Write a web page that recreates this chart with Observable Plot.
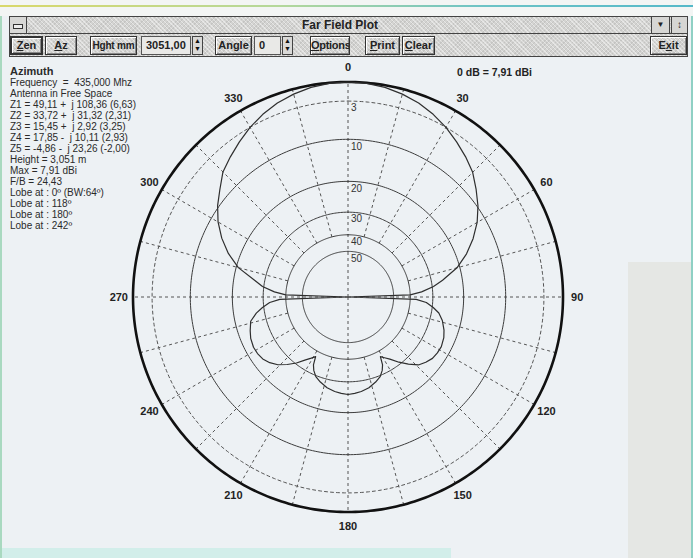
<!DOCTYPE html>
<html><head><meta charset="utf-8">
<script src="https://cdn.jsdelivr.net/npm/d3@7"></script>
<script src="https://cdn.jsdelivr.net/npm/@observablehq/plot@0.6"></script>
<style>
html,body{margin:0;padding:0;}
body{width:693px;height:558px;position:relative;overflow:hidden;background:#edf1f4;font-family:"Liberation Sans",Arial,sans-serif;color:#222;}
.abs{position:absolute;}
#chart{position:absolute;left:0;top:0;z-index:1;}
.ui{z-index:2;}
.hatch{background-color:#d3d3d1;background-image:repeating-linear-gradient(45deg,rgba(255,255,255,.45) 0 1px,transparent 1px 3px),repeating-linear-gradient(-45deg,rgba(0,0,0,.07) 0 1px,transparent 1px 3px);}
.btn{position:absolute;top:36px;height:19px;border:1px solid #333;box-shadow:inset 1px 1px 0 #fff,inset -1px -1px 0 #888;font-weight:bold;font-size:11px;line-height:17px;text-align:center;color:#222;box-sizing:border-box;white-space:nowrap;overflow:hidden;}
.box{position:absolute;top:36px;height:19px;border:1px solid #555;background:#e9e9e7;font-weight:bold;font-size:11px;line-height:17px;padding-left:4px;box-sizing:border-box;color:#222;white-space:nowrap;}
.spin{position:absolute;top:36px;width:11px;height:19px;border:1px solid #444;box-sizing:border-box;background:#d9d9d7;font-size:7px;line-height:8px;text-align:center;color:#111;}
#info{left:10px;top:66px;font-size:10px;line-height:11px;color:#2a2a2a;white-space:pre;}
#info b{font-size:11px;}
</style></head>
<body>
<div class="abs" style="left:0;top:0;width:693px;height:16px;background:#f3f5f4;"></div>
<div class="abs" style="left:0;top:5px;width:693px;height:2px;background:linear-gradient(90deg,#d9d86a,#b5d89a 40%,#6cc3c6 70%,#55b9c9);"></div>
<div class="abs" style="left:0;top:16px;width:2px;height:542px;background:#a9d9c0;"></div>
<div class="abs" style="left:691px;top:16px;width:2px;height:542px;background:#8fd0c4;"></div>
<div class="abs" style="left:628px;top:262px;width:63px;height:296px;background:#e5e7e4;"></div>
<div class="abs" style="left:2px;top:548px;width:449px;height:10px;background:#d2eeea;"></div>

<div class="abs ui hatch" style="left:9px;top:16px;width:679px;height:18px;border:1px solid #444;box-sizing:border-box;"></div>
<div class="abs ui" style="left:9px;top:16px;width:18px;height:18px;border:1px solid #444;box-sizing:border-box;background:#d8d8d6;"><div style="margin:7px 3px 0;height:3px;border:1px solid #333;background:#eee;"></div></div>
<div class="abs ui" style="left:302px;top:17px;font-weight:bold;font-size:12px;line-height:16px;color:#222;">Far Field Plot</div>
<div class="abs ui" style="left:651px;top:16px;width:19px;height:18px;border:1px solid #444;box-sizing:border-box;background:#d6d6d4;font-size:8px;text-align:center;line-height:16px;">▼</div>
<div class="abs ui" style="left:671px;top:16px;width:17px;height:18px;border:1px solid #444;box-sizing:border-box;background:#d6d6d4;font-size:10px;text-align:center;line-height:16px;">↕</div>

<div class="abs ui hatch" style="left:9px;top:34px;width:679px;height:23px;border:1px solid #444;border-top:none;box-sizing:border-box;"></div>
<div class="btn ui hatch" style="left:10px;width:33px;border-width:2px;line-height:15px;"><u>Z</u>en</div>
<div class="btn ui hatch" style="left:45px;width:32px;"><u>A</u>z</div>
<div class="btn ui hatch" style="left:90px;width:47px;font-size:10px;letter-spacing:-0.2px;">Hght mm</div>
<div class="box ui" style="left:141px;width:50px;">3051,00</div>
<div class="spin ui" style="left:192px;">▲<br>▼</div>
<div class="btn ui hatch" style="left:215px;width:37px;">Angle</div>
<div class="box ui" style="left:254px;width:27px;">0</div>
<div class="spin ui" style="left:282px;">▲<br>▼</div>
<div class="btn ui hatch" style="left:310px;width:40px;letter-spacing:-0.3px;"><u>O</u>ptions</div>
<div class="btn ui hatch" style="left:365px;width:35px;"><u>P</u>rint</div>
<div class="btn ui hatch" style="left:402px;width:33px;"><u>C</u>lear</div>
<div class="btn ui hatch" style="left:650px;width:37px;">E<u>x</u>it</div>

<div id="info" class="abs ui"><b>Azimuth</b>
Frequency  =  435,000 Mhz
Antenna in Free Space
Z1 = 49,11 +  j 108,36 (6,63)
Z2 = 33,72 +  j 31,32 (2,31)
Z3 = 15,45 +  j 2,92 (3,25)
Z4 = 17,85 -  j 10,11 (2,93)
Z5 = -4,86 -  j 23,26 (-2,00)
Height = 3,051 m
Max = 7,91 dBi
F/B = 24,43
Lobe at : 0º (BW:64º)
Lobe at : 118º
Lobe at : 180º
Lobe at : 242º</div>
<div class="abs ui" style="left:457px;top:66px;font-size:10.5px;line-height:12px;color:#222;font-weight:bold;">0 dB = 7,91 dBi</div>

<div id="chart"></div>
<script>
// ---- data ----
const angleTicks = [0, 30, 60, 90, 120, 150, 180, 210, 240, 270, 300, 330];
const gridAngles = [0, 15, 30, 45, 60, 75, 90, 105, 120, 135, 150, 165, 180, 195, 210, 225, 240, 255, 270, 285, 300, 315, 330, 345];
const solidRings = [-10, -20, -30, -40, -50];
const dashedRings = [-3];
const ringLabelLevels = [-3, -10, -20, -30, -40, -50];
const ringLabelTexts = ["3", "10", "20", "30", "40", "50"];
const patternAngles = [0, 5, 10, 15, 20, 25, 30, 35, 40, 45, 50, 55, 60, 65, 70, 75, 80, 83, 86, 88, 90,
  92, 94, 97, 100, 104, 109, 113, 118, 122, 126, 130, 134, 138, 142, 146, 149, 151.5, 153, 155, 158, 162, 167, 172, 176, 180,
  184, 188, 193, 198, 202, 205, 207, 208.5, 211, 214, 218, 222, 226, 230, 234, 238, 242, 247, 251, 256, 260, 263, 266, 268, 270,
  272, 274, 277, 280, 285, 290, 295, 300, 305, 310, 315, 320, 325, 330, 335, 340, 345, 350, 355, 360];
const patternDb = [0, -0.08, -0.33, -0.75, -1.3, -2.08, -3.0, -4.1, -5.2, -6.4, -8.1, -9.8, -11.8, -14.3, -17.2, -20.8, -26, -29.5, -34.5, -40, -200,
  -37, -32.5, -29.6, -27.3, -25.6, -24.2, -23.4, -22.9, -23.0, -23.3, -24.2, -25.4, -28.0, -30.8, -34.0, -35.8, -37.2, -33.5, -31.5, -29.6, -28.3, -27.0, -26.2, -25.8, -25.5,
  -25.8, -26.2, -27.0, -28.3, -29.6, -31.5, -33.5, -37.2, -35.6, -33.6, -30.4, -27.8, -25.5, -24.0, -23.0, -22.6, -22.5, -22.9, -23.6, -24.6, -27.0, -29.5, -32.5, -37, -200,
  -40, -34.5, -29.5, -26.5, -20.6, -16.9, -14.0, -11.6, -9.7, -8.1, -6.3, -5.2, -4.1, -3.0, -2.08, -1.3, -0.75, -0.33, -0.08, 0];

// ---- geometry helpers ----
const rad = db => Math.exp(0.031 * db);           // dB -> normalised radius
const px = (a, r) => r * Math.sin(a * Math.PI / 180);
const py = (a, r) => r * Math.cos(a * Math.PI / 180);

const pattern = patternAngles.map((a, i) => ({a, db: patternDb[i]}));
const circleSteps = d3.range(0, 361, 1);
const ringPts = levels => levels.flatMap(l => circleSteps.map(a => ({a, l})));
const spokes = gridAngles.map(a => ({a, r0: a % 90 === 0 ? 0 : rad(-40)}));
const ringLabels = ringLabelLevels.map((l, i) => ({l, t: ringLabelTexts[i]}));

const cx = 347.5, cy = 296.5, R = 215;

const chart = Plot.plot({
  width: 693, height: 558,
  marginTop: 0, marginBottom: 0, marginLeft: 0, marginRight: 0,
  x: {domain: [-1, 1], range: [cx - R, cx + R], axis: null},
  y: {domain: [-1, 1], range: [cy + R, cy - R], axis: null},
  style: {background: "transparent", overflow: "visible"},
  marks: [
    Plot.link(spokes, {
      x1: d => px(d.a, d.r0), y1: d => py(d.a, d.r0),
      x2: d => px(d.a, 1), y2: d => py(d.a, 1),
      stroke: "#555", strokeWidth: 1, strokeDasharray: "3,3"
    }),
    Plot.line(ringPts(dashedRings), {
      x: d => px(d.a, rad(d.l)), y: d => py(d.a, rad(d.l)), z: "l",
      stroke: "#555", strokeWidth: 1, strokeDasharray: "3,3"
    }),
    Plot.line(ringPts(solidRings), {
      x: d => px(d.a, rad(d.l)), y: d => py(d.a, rad(d.l)), z: "l",
      stroke: "#3c3c3c", strokeWidth: 1
    }),
    Plot.line(ringPts([0]), {
      x: d => px(d.a, 1), y: d => py(d.a, 1), z: "l",
      stroke: "#111", strokeWidth: 2.6
    }),
    Plot.line(pattern, {
      x: d => px(d.a, rad(d.db)), y: d => py(d.a, rad(d.db)),
      stroke: "#2e2e2e", strokeWidth: 1.2, strokeLinejoin: "round"
    }),
    Plot.text(ringLabels, {
      x: 0, y: d => rad(d.l), text: "t", textAnchor: "start",
      dx: 3, dy: 7, fontSize: 10, fill: "#333",
      fontFamily: "Liberation Sans, Arial, sans-serif"
    }),
    Plot.text(angleTicks, {
      x: a => px(a, 1.066), y: a => py(a, 1.066), text: a => String(a),
      fontSize: 11, fontWeight: "bold", fill: "#222",
      fontFamily: "Liberation Sans, Arial, sans-serif"
    })
  ]
});
document.getElementById("chart").appendChild(chart);
</script>
</body></html>
